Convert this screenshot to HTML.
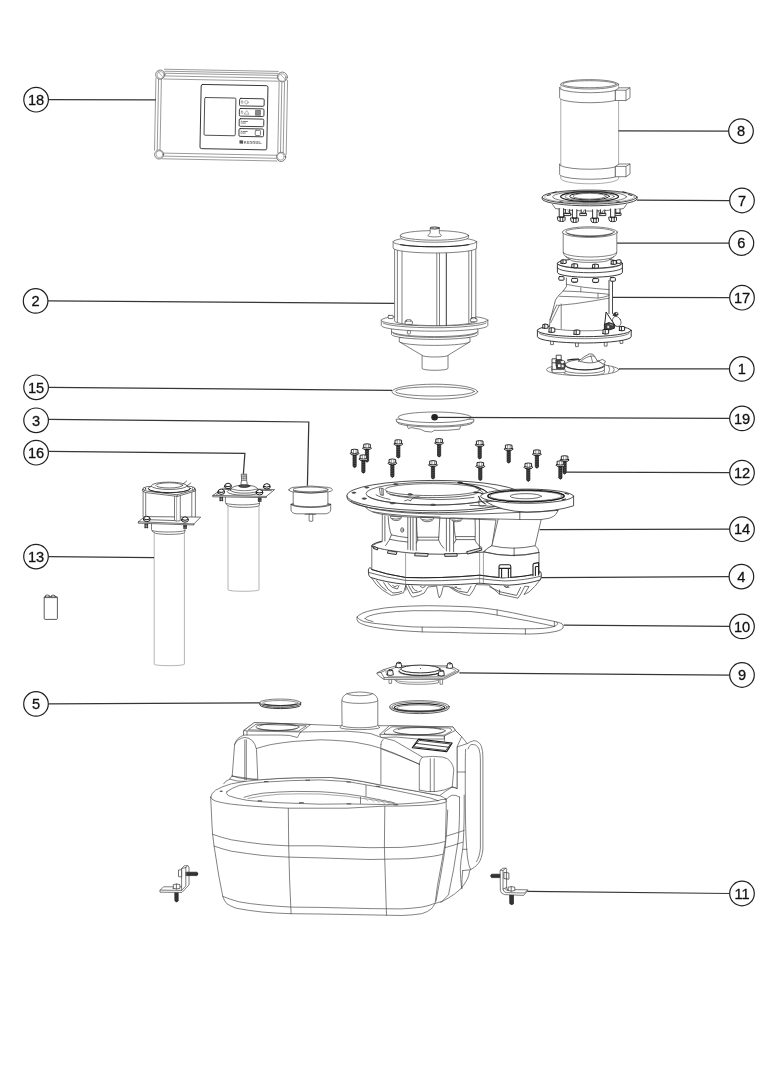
<!DOCTYPE html>
<html lang="de">
<head>
<meta charset="utf-8">
<title>Explosionszeichnung</title>
<style>
html,body{margin:0;padding:0;background:#fff;}
body{width:764px;height:1080px;overflow:hidden;font-family:"Liberation Sans",sans-serif;}
svg{display:block;position:absolute;left:0;top:0;will-change:transform;}
.l{fill:none;stroke:#363636;stroke-width:1.25;}
.c{fill:#fff;stroke:#202020;stroke-width:1.2;}
.n{font-family:"Liberation Sans",sans-serif;font-size:14.6px;fill:#111;stroke:#111;stroke-width:.3;text-anchor:middle;}
.p{fill:none;stroke:#4a4a4a;stroke-width:.7;stroke-linejoin:round;stroke-linecap:round;}
.pw{fill:#fff;stroke:#4a4a4a;stroke-width:.7;stroke-linejoin:round;stroke-linecap:round;}
.t{fill:none;stroke:#777;stroke-width:.55;stroke-linejoin:round;stroke-linecap:round;}
.tw{fill:#fff;stroke:#777;stroke-width:.55;stroke-linejoin:round;stroke-linecap:round;}
.d{fill:none;stroke:#222;stroke-width:1;stroke-linejoin:round;stroke-linecap:round;}
.dw{fill:#fff;stroke:#222;stroke-width:1;stroke-linejoin:round;stroke-linecap:round;}
.k{fill:#222;stroke:none;}
.g{fill:#999;stroke:none;}
</style>
</head>
<body>
<svg width="764" height="1080" viewBox="0 0 764 1080">
<rect width="764" height="1080" fill="#fff"/>
<g id="tank">
<g class="p" style="stroke:#404040;stroke-width:.65">
<!-- side box (right) -->
<path d="M457 747 L467.2 743.6 Q471 741.2 474.2 740.6 Q479.6 741.4 481.4 746.4 Q483 751 482.9 757 V849 Q482 858.6 478.4 863.4 Q475 867.6 470.5 869.7 L462.7 870.6"/>
<path d="M455.4 730.4 L461.7 736.7 L467.2 743.6 M465.6 749.3 Q465 760 465.4 810 Q465.6 840 467.4 857 Q468.4 866 470.6 869.6 M468 749 Q468.6 746 471 744.6 Q476.6 743.6 479 749 Q480.4 753 480.4 760 V848 Q479.6 857 476.6 861.6 M457 747 V788.6 M457 772 H465.4"/>
<path d="M464.2 795 V810 Q464 835 462.7 849.3 Q460.6 860 460.3 869.7 Q460.6 880 461.6 888.5 M462.7 870.6 Q461.6 880 461.9 888.5 M469.7 870.5 Q468.8 876 467.4 879.1 Q464 885 461.1 888.5 Q454 895 448.5 898 Q444 901.4 435.2 903.4"/>
<path d="M459.5 797 V810 Q459.4 830 458 841.4 Q454 870 448.5 894.8 L440.7 902.7 M447.7 810 Q446.6 840 443.8 857.1 Q440 880 436 901.1"/>
<path d="M446 836.2 Q455 833.6 464.2 830.4 M444.6 847.8 Q453 845.6 462.7 842.2 M462.7 849.3 H467"/>
<!-- lower body -->
<path class="pw" style="stroke:#404040;stroke-width:.65" d="M210.7 797.2 L211.3 810 Q211.8 824 212.6 834.3 L214.1 846.1 L218.8 876 L222.8 896.4 Q224 900.6 226.7 903.5 Q230.6 906.4 236.1 908.2 Q248 910.6 262.8 912.1 Q278 913.4 291.1 913.7 L320 914 L370 914.9 L401.4 915.5 Q412 915.2 421.8 913.7 Q428 911.8 431.3 908.9 Q434 906 435.2 902.7 L437.5 885.4 L443 855.5 L445.4 841.4 L446.2 810 V799 Z"/>
<path d="M212.6 834.3 Q221 837.4 231.4 839.8 Q248 842.6 262.8 844.2 Q276 845.4 288 845.8 L320 845.8 L370 847.7 L401.4 847.4 Q418 846.4 432.8 844.2 Q440 843 445.4 841.4"/>
<path d="M214.1 846.1 Q222 849 231.4 851.2 Q248 853.8 262.8 855.5 Q276 856.6 288 857.1 L320 857.9 L370 859.5 L409.3 858.7 Q422 857.8 432.8 856.3 Q438 855.4 443 854.3"/>
<path d="M222.8 896.4 Q230 899.4 239.3 901.9 Q250 903.8 262.8 905 Q278 906.4 291.1 907.1 L320 907.4 L370 908.6 L401.4 908.9 Q412 908.4 421.8 907.1 Q430 905.6 434.4 903.5"/>
<path d="M288.3 808.2 L288.7 845.8 L289.6 880 L291.1 913.7 M384.8 806 L384.4 847.6 L385.4 880 L386.5 915.2"/>
<!-- rim -->
<path class="pw" style="stroke:#404040;stroke-width:.65" d="M210.7 797.2 Q211 793.4 215.7 790.1 Q222 786.4 231.4 783.8 Q244 781.2 258.1 779.9 Q276 778.4 294.2 777.8 L320 777.5 L331.4 777.5 Q348 778.6 362.8 781.5 L378.5 784.6 L419.3 791.7 L439.7 795.6 Q444 797 446 799.5 Q446.6 801 445.4 802.4 Q441 803.6 435 804.4 L420 805.4 Q400 806.4 384.8 806.1 L347.1 808.2 L320 808.2 L288 808.2 Q272 807.6 258.1 806.6 Q244 805.6 231.4 804.2 Q222 803 215.7 801.1 Q211 799.6 210.7 797.2 Z"/>
<path d="M226.7 791.7 Q232 788 239.3 785.4 Q250 783.4 262.8 782.2 Q290 780.2 320 779.9 L347.1 781.5 L378.5 787 L420 795.6 Q432 798 438 800.6"/>
<path d="M226.7 791.7 Q225.8 793.6 228.3 795.6 Q236 798.4 247.1 800.3 Q262 802 278.5 802.7 L320 804.2 L347.1 803.9 L386.4 804.6 Q404 804 420 802.7 Q430 801.8 438 800.6"/>
<path d="M244 797.2 Q252 794.6 262.8 793.2 Q278 791.8 294.2 791.4 L320 791.7 L331.4 792.5 Q348 793.8 362.8 796.4 L394.2 802.7"/>
<path d="M248 798.4 Q262 795.4 280 794.2 Q300 793.6 320 794 Q346 795.4 370 799.4 L397 804" style="stroke:#777"/>
<path d="M366 785.4 V796.4 M360.5 797.2 V803.5"/>
<path d="M364 797.4 l4 3.6 M369 797.8 l5 4.4 M374 798.4 l5.4 4.6 M379 799.2 l6 4.8 M384.6 800 l5.4 4.2 M390 801.2 l4 3" style="stroke:#888;stroke-width:.5"/>
<g style="fill:#555;stroke:none">
<ellipse cx="221.2" cy="791.2" rx="1.6" ry=".7"/><rect x="264" y="781" width="4.4" height="1.1"/><rect x="305.4" y="779.7" width="4.6" height="1.1"/><rect x="257.6" y="800.3" width="4.6" height="1.1"/><rect x="299" y="802.2" width="4.8" height="1.1"/>
<rect x="346.4" y="781.4" width="4.4" height="1.1"/><rect x="375.8" y="785.8" width="4.4" height="1.1"/><rect x="346.6" y="803.3" width="4.6" height="1.1"/><rect x="393.6" y="804.2" width="4.6" height="1.1"/>
</g>
<!-- upper body -->
<path class="pw" style="stroke:#404040;stroke-width:.65" d="M232.2 776 L234.6 744.6 Q236 738 244 735 V730.4 L254.2 722.6 L310.7 724.5 L340.8 725.7 H378.5 L389.4 725.7 L453 727 L455.4 730.4 L461.7 736.7 L457 747 V788.5 L452.2 787 Q446 790.6 439.7 795.6 L419.3 791.7 L378.5 784.6 L362.8 781.5 Q348 778.6 331.4 777.5 L294.2 777.8 Q276 778.4 258.1 779.9 L232.2 776 Z"/>
<!-- left pillar -->
<path d="M234.6 744.6 Q237 738.6 244.8 737.4 Q254 738 256.5 749.3 L257.8 779.1 M232.2 776 Q230 777.6 229.8 779.1 Q236 781.6 245 781.4 M229.8 779.1 Q225 781 223.6 783.8 M232.2 776 Q244 780.2 257.8 779.1 M244.8 739.8 V779.9 M246.3 739.8 V779.9"/>
<!-- left port -->
<path class="pw" style="stroke:#404040;stroke-width:.65" d="M244 730.4 L254.2 722.6 L310.7 724.5 L300.5 732 L297.4 737.5 Q290 734.6 280 735 L247 735 L244 735.1 Z"/>
<path d="M244 730.4 L247 731 L300.5 732 M247 731 V735 M248.6 729.6 L256 724.2 L306.4 725.8 L298.6 731 Z" />
<ellipse cx="277.4" cy="727" rx="21.6" ry="3.5"/>
<path d="M257.6 728.2 A20.6 3.1 0 0 0 297.4 728.2 M259.4 726 A18 2.2 0 0 1 295.4 726"/>
<!-- top edges -->
<path d="M256.5 748.5 Q263 746.4 270.7 744.6 Q282 742.6 294.2 741.4 L320 739.8 L331.4 740.2 Q344 740.8 355 742.2 L370.7 745.3 L381.7 748.5 L394.2 753.2 L419.3 764.2"/>
<path d="M300.5 732 L347.1 731.2 Q360 732 370.7 733.6 L381.7 737.5 L394.2 740.6 L422.4 757.1"/>
<path d="M380.9 744.6 Q380.6 742 383 739.4 M380.9 744.6 V783.8"/>
<!-- central pipe -->
<path class="pw" style="stroke:#404040;stroke-width:.65" d="M341.8 700.8 Q342 696 347 693.6 Q359.8 690.4 372.6 693.6 Q377.6 696 377.8 700.8 V725.6 L379.8 727.4 A20 2.2 0 0 1 339.8 727.4 L341.8 725.6 Z"/>
<path d="M341.8 700.8 A18 2.6 0 0 0 377.8 700.8 M347 693.8 A12.9 2.2 0 0 0 372.6 693.8 M341.8 725.6 A18 2.2 0 0 0 377.8 725.6"/>
<!-- right port -->
<path class="pw" style="stroke:#404040;stroke-width:.65" d="M380 734.3 L389.4 725.7 L453 727 L455.4 730.4 L444.4 736 L444.4 739 L418.5 739.1 L396 737 L381.6 737.5 Z"/>
<path d="M380 734.3 L396 735 L444.4 736 M384.4 733.6 Q383.6 732.6 385 731.4 L390.6 727.6 Q391.6 726.8 393.4 726.8 L448.6 728 Q451.4 728.4 451.6 730 Q451.6 731 450.4 731.8 L444.6 734.8 Q443.4 735.4 441.6 735.2 L386.4 734.2 Q384.8 734.2 384.4 733.6 Z M444.4 736 V741"/>
<ellipse cx="419.3" cy="730.8" rx="26" ry="4"/>
<path d="M395 732 A25 3.6 0 0 0 443.6 732 M398 729.6 A22 2.6 0 0 1 441 729.6"/>
<!-- label -->
<path d="M412.2 747.7 L418.5 739.1 L452.2 743 L446.7 751.6 Z" style="stroke:#1c1c1c;stroke-width:1.1;fill:#fff"/>
<path d="M413.8 746.4 L419.2 740.4 L450.6 744 L446 750.2 Z M416.4 743.4 L448.4 747.2" style="stroke:#1c1c1c;stroke-width:.8"/>
<!-- right shoulder box -->
<path d="M419.3 764.2 Q419.6 759.4 422.4 757.1 Q432 755.6 442.8 757.1 Q448 758 450.7 761.8 Q453.4 765.4 453.8 769.7 L452.2 787 M419.3 764.2 V790.1 M430.3 758.7 V791.7 M434.2 758.7 V791.7 M419.3 790.1 Q436 794.6 452.2 787"/>
<path d="M381.6 749 Q400 755.6 419.3 764.2"/>
<path d="M446 799.5 Q449 796.4 452 795.2 Q456 794.6 459.4 797 M438 800.6 Q442 798.6 445.4 799.4 M452.2 787 Q456 787.4 457 788.5"/>
</g>
</g>
<g id="seals">
<g>
<path class="pw" d="M389.9 706.4 V707.8 A29.6 5.8 0 0 0 449.1 707.8 V706.4 Z" style="stroke:#333;stroke-width:.8"/>
<ellipse class="pw" cx="419.5" cy="706.4" rx="29.6" ry="5.8" style="stroke:#444"/>
<ellipse class="p" cx="419.5" cy="706.9" rx="27.6" ry="4.9" style="stroke:#444"/>
<ellipse class="d" cx="419.5" cy="707.5" rx="25.2" ry="3.9" style="stroke-width:1.1"/>
<ellipse class="p" cx="419.5" cy="707.9" rx="22.6" ry="3" style="stroke:#555"/>
<path class="pw" d="M259.9 702.6 V705 A20.4 3.6 0 0 0 300.7 705 V702.6 Z" style="stroke:#222;stroke-width:.9"/>
<path class="d" d="M259.9 703.8 A20.4 3.6 0 0 0 300.7 703.8" style="stroke-width:.75"/>
<ellipse class="pw" cx="280.3" cy="702.6" rx="20.4" ry="3.6" style="stroke:#444"/>
<ellipse class="p" cx="280.3" cy="703" rx="17.8" ry="2.5" style="stroke:#666"/>
<path class="d" d="M264.4 704.2 A17.8 2.5 0 0 0 296.2 704.2" style="stroke-width:.9"/>
</g>
</g>
<g id="part9">
<g class="p" style="stroke:#444;stroke-width:.7">
<!-- bowl under -->
<path class="pw" style="stroke:#555" d="M394.2 678 Q394.6 681.6 398.6 682.8 A22 2.6 0 0 0 438.4 682.8 Q438.8 681.6 438.7 678 Z"/>
<path d="M395.6 680.4 A22 2.6 0 0 0 438 680.4" style="stroke:#777"/>
<!-- studs -->
<path class="pw" style="stroke:#555" d="M389 678 V683.4 h2.6 V678 M440 678.6 V684.2 h2.6 V678.6"/>
<!-- plate -->
<path class="pw" style="stroke:#444" d="M377.2 672.9 L383 669.8 L396 665.8 H450.6 L459 670.3 L458.6 672 L445.6 678.6 L443.4 679.4 H384 L381 677.4 L377.6 674.6 Z"/>
<path d="M377.2 672.9 L381 672.4 L384 677.6 L443.4 678.2 L458.8 670.6 M381 672.4 L386 670 M384 679.2 V677.6"/>
<path d="M386 671.6 L396.6 667 H449 L456 670.6 L444 676.6 H388.6 Z" style="stroke:#777"/>
<!-- disc -->
<ellipse class="pw" cx="420.4" cy="671.4" rx="22" ry="4.4" style="stroke:#555"/>
<path d="M399.4 671.4 A21 4 0 0 0 441.4 671.4" style="stroke:#222;stroke-width:1"/>
<ellipse class="pw" cx="420.4" cy="669" rx="19.7" ry="3.9" style="stroke:#222;stroke-width:.95"/>
<circle class="k" cx="420.4" cy="668.4" r=".5"/>
<!-- nuts -->
<g class="pw" style="stroke:#222;stroke-width:.9">
<path d="M395.8 667.2 L396.6 663 Q398.8 661.8 401 663 L401.8 667.2 Q398.8 668.6 395.8 667.2 Z"/><ellipse cx="398.8" cy="662.8" rx="1.6" ry=".6"/>
<path d="M446.8 667.8 L447.6 663.6 Q449.8 662.4 452 663.6 L452.8 667.8 Q449.8 669.2 446.8 667.8 Z"/><ellipse cx="449.8" cy="663.4" rx="1.6" ry=".6"/>
<path d="M387.2 674.8 L388 670.4 Q390.3 669.2 392.6 670.4 L393.4 674.8 Q390.3 676.2 387.2 674.8 Z"/><ellipse cx="390.3" cy="670.2" rx="1.7" ry=".6"/>
<path d="M438.2 675.4 L439 671 Q441.3 669.8 443.6 671 L444.4 675.4 Q441.3 676.8 438.2 675.4 Z"/><ellipse cx="441.3" cy="670.8" rx="1.7" ry=".6"/>
</g>
</g>
</g>
<g id="gasket10">
<g class="p" style="stroke:#444;stroke-width:.7">
<path class="pw" style="stroke:#444" d="M357.1 617 Q360 612.6 373.6 609.9 Q384 607.6 397.1 606.8 Q412 605.8 428.5 605.7 Q450 605.9 470 606.9 Q484 607.8 497.1 609.9 Q512 612.4 528.5 616.2 L552.1 620.9 Q559.4 622.4 561.8 623.6 Q564 625.4 563 628 Q561.6 630.2 556 631.4 Q548 633 540 633.6 Q530 634.2 525.4 634 L497.1 633.5 Q470 633.2 450 632.4 Q436 632.2 422.2 631.9 Q408 631.2 397.1 630.3 Q384 629 373.6 627.2 Q362 625 357.9 621.7 Q356.4 619.6 357.1 617 Z"/>
<path d="M357.4 617.4 Q359 620 364 621.6 Q372 623.4 381.4 624.1 Q396 625.8 412.8 626.9 Q440 627.4 450 627.2 L497.1 628.3 Q512 628.8 525.4 628.8 Q536 628.8 544.2 628.3 Q550 627.8 554.4 626.4 Q559 624.6 557 622.2"/>
<path d="M364.9 618.6 Q366 615.6 381.4 613.1 Q396 611.2 412.8 610.7 Q440 610.4 470 611.5 Q484 612.6 497.1 615.1 Q512 618 528.5 620.9 L547.4 624.8 L554.4 626.4"/>
<path d="M364.9 618.6 Q367 620.4 373 621.6"/>
<path d="M422.2 627.2 V631.9 M497.1 609.9 V615.1 M525.4 628.8 V634 M554.4 621.6 V626.4"/>
</g>
</g>
<g id="housing">
<g class="p" style="stroke:#3a3a3a;stroke-width:.75">
<!-- bottom vanes -->
<path class="pw" style="stroke:#3a3a3a" d="M371 577 L376.4 584.6 Q381.6 590.4 391.4 595.4 Q398 595 403.6 592.6 L405.8 585.4 L410.4 594.4 L412.6 597.2 Q420 595.6 424.2 593 L428 587 L436.6 586 L438 594 L439.4 598 L441.4 594 L443.2 586.6 L449 586.6 Q458 594 469.6 595.6 L473.6 590 L476 584.6 L489 585 L499.6 594.2 L518 598.2 L521.4 593 L524.8 586.2 L529 586.6 L524 594.6 L529 592 Q536 586 540 580 Z"/>
<path d="M376.6 580.6 Q381.6 587.6 386.4 590.6 M383.6 582.6 Q387.6 590.6 393 593 Q398.6 592.8 401.6 591.6 M388 583.4 Q392 588.6 397.4 589 L399 585.6 M408.6 585.6 L412.8 593 Q418.6 592.4 421.6 590.8 M412 586 Q413.6 590.6 417 591 M450 587 Q459 592.6 467.4 592.6 L471 586.2 M455 586.8 Q457.6 589.4 461 589 M489.6 586.8 L500 591.8 L516.6 595.4 L520.6 587.4 M504.6 586.4 Q506.6 588.4 509 587.4 M405.8 585.4 V590 M499.6 590 V594"/>
<path d="M392.6 585.6 q2 2.6 4.8 0 M420.4 586.6 q2 2.6 4.8 0 M452 587 q2 2.6 4.8 0 M504 586.2 q2 2.4 4.6 0"/>
<!-- rim -->
<path class="pw" style="stroke:#2c2c2c;stroke-width:.9" d="M369.6 567.6 Q367.8 568.6 368.4 572 Q368.4 576 370.4 577.4 Q386 582.4 405.8 584.4 Q440 586.2 480 583.2 Q492 584.6 508.8 585.2 Q528 584 540.4 579.8 Q541.8 577 541.2 573.4 Q540.8 571.4 539.4 571 L539 572 L371.8 569 Z"/>
<!-- lower ring body -->
<path class="pw" style="stroke:#3a3a3a" d="M371.8 546 V569.6 Q386.2 574.4 405.8 577.5 Q440 578.6 480 575.2 Q492 577 502.4 577.8 Q526 577 539 573 V552.4 Q520 545 483 552 Q440 556 405.8 552.5 Q380 549.6 371.8 546 Z"/>
<path style="stroke:#222;stroke-width:1" d="M371.8 569.6 Q386.2 574.4 405.8 577.5 Q440 578.6 480 575.2 Q492 577 502.4 577.8 Q526 577 539.6 573"/>
<path class="t" style="stroke:#555" d="M405.6 553 V584.2 M479.6 553 V583 M483.4 552.4 V583.2"/>
<path d="M369.4 572.6 Q386 577.6 405.8 580.4 Q440 581.8 480 578.6 Q492 580.2 505 581 Q526 580.2 540.6 576.2"/>
<!-- clips -->
<path class="dw" style="stroke-width:1.1" d="M499 577.4 V566.6 Q499 564.8 500.8 564.8 H509 Q510.8 564.8 510.8 566.6 V577.4 M501.6 577.4 V568.4 H508.4 V577.4 M499.4 568.4 H510.4"/>
<path class="dw" style="stroke-width:1.1" d="M533 575.8 V565 Q533 563.6 534.4 563.4 L538.6 562.6 V575 M535.4 575.4 V566.8 L538.6 566.2"/>
<!-- mid section -->
<path class="pw" style="stroke:#3a3a3a" d="M382.3 514 V541.6 Q376 543 371.8 546 Q380 549.6 405.8 552.5 Q440 556 483 552 L492 545.7 L496 520 L441 518 Z"/>
<path d="M384.9 516 V541 M388.2 516.6 Q388.6 528 391.4 534.9 Q389.4 541 385.6 545.6 M391.4 534.9 Q399 536.8 407.6 537.6 M390 539.4 Q398 541.2 407.6 542 M407.8 517.2 V549.4 M410.4 517.4 V549.8 M413 517.6 V550.2 M416.3 517.8 V550.4 M416.6 518 Q416.6 532 417.8 540.1 H438.6 Q439.2 530 439.8 518 M417.8 540.1 L416.4 543 M438.6 540.1 Q440.4 545 443.8 548.2 M417.6 537.2 H438.8 M446.4 518 V551 M449.7 518 V551.4 M453.6 518 V551.8 M453.8 518.4 Q454 532 456 539.6 H475 M456 539.6 L454.4 543 M456 536.6 H475 M479.4 518.6 V551 M475 518.4 Q475.6 532 475 539.6 Q476.6 545 482 547.6"/>
<ellipse cx="402.2" cy="530" rx="1.5" ry="2.3"/><ellipse cx="402.4" cy="530" rx=".7" ry="1.4" class="t"/>
<g style="stroke:#222;stroke-width:.9;fill:#ddd">
<path d="M374.4 546.6 l3.4 1.4 l-.4 2 l-3.4 -1.4 Z M388.6 550.6 l8.4 1.4 l-.8 2.6 l-8.4 -1.4 Z M415.6 553 l12.6 .6 l-.6 2.8 l-12.6 -.6 Z M445 553.8 l12 -.2 l.2 2.6 l-12 .2 Z M467 551.6 l14 -3.6 l1 2 l-14 4 Z"/>
</g>
<path style="stroke:#222;stroke-width:.9" d="M372.4 544.6 Q376 542.4 381.6 541.2 M374 548.6 L371.8 546"/>
<!-- cone right -->
<path class="pw" style="stroke:#3a3a3a" d="M498.4 518 L491.9 545.7 Q487 548 484 551.8 Q510 558.6 539 552.4 Q538.6 548 535.1 545.7 L541.2 519.4 Z"/>
<path d="M492 545.8 Q513 550.6 535 545.8 M514.1 548 V556 M484.2 552 Q511 559 539 552.6"/>
<!-- under-flange hub -->
<path class="pw" style="stroke:#3a3a3a" d="M364.2 505 Q366 509.6 372.7 511.8 Q377 513.6 383.2 514.5 Q400 517 420 517.6 L480 518.6 L519.7 519.5 L540.9 519.6 L549.4 518.2 Q554.6 516.4 555.9 514.3 L558 510.6 Z"/>
<path d="M519.8 512.3 V519.5 M372.7 511.8 Q400 516.6 440 517"/>
<g class="pw" style="stroke:#333"><path d="M390.4 516.6 Q390.6 520 395.6 520.6 Q401 520.6 401.4 517.4 Z M392 518.6 Q396 519.8 400 518.6 M420.6 517.8 Q421 521.4 427 521.8 Q433.4 521.6 433.8 518.2 Z M422.4 519.6 Q427 521 432 519.6 M450.6 518.4 Q451 521.6 456.4 521.8 Q462 521.6 462.4 518.8 Z M452.4 520 Q456.4 521 460.6 520"/></g>
<!-- left plate -->
<path class="pw" style="stroke:#333;stroke-width:.85" d="M347 495.6 V497.4 A88 15.2 0 0 0 519.8 501.6 V495.6 Z"/>
<path style="stroke:#333" d="M351 501.2 Q360 506.2 378 509.6 Q400 513.4 440 514.2 Q480 514.6 519.8 512.4"/>
<ellipse class="pw" style="stroke:#333;stroke-width:.85" cx="435" cy="495.6" rx="88" ry="15.2"/>
<ellipse cx="434" cy="493.6" rx="68" ry="11.4"/>
<path d="M368 496.4 A66 10.6 0 0 0 480 501.8"/>
<ellipse class="pw" style="stroke:#333" cx="432.6" cy="489.6" rx="47.6" ry="6"/>
<path d="M386.4 491.4 A46 5.6 0 0 0 478 492.6 M390 494.6 Q410 499.2 440 499.6 Q460 499.4 474 497.4" />
<path class="pw" style="stroke:#333" d="M379.4 488.4 L380.4 494.8 L383.4 495.4 L383.2 488.8 Z M381.8 488.6 L382 495"/>
<path d="M376 494.8 Q380 497.4 390 499.4 M404.6 500.8 Q408 498.6 410.6 500.6 M410.6 500.6 Q412 497 419 496.6"/>
<g style="fill:#555;stroke:#333;stroke-width:.5">
<ellipse cx="353.8" cy="492.7" rx="2" ry=".7"/><ellipse cx="366.8" cy="487.5" rx="2" ry=".7"/><ellipse cx="395.6" cy="484.2" rx="2.2" ry=".7"/>
<ellipse cx="364.2" cy="498.6" rx="2.2" ry=".8"/><ellipse cx="392.4" cy="503.2" rx="2.4" ry=".8"/><ellipse cx="410" cy="494.4" rx="2.4" ry=".8"/><ellipse cx="433" cy="504.8" rx="2.4" ry=".8"/>
<ellipse cx="460" cy="482.4" rx="2.2" ry=".7"/>
</g>
<!-- junction -->
<path style="stroke:#222;stroke-width:1.1" d="M458 482.6 Q472 484.6 483 489.4 Q486 491 487.6 492.8 M474 492.2 Q480 492 484 494.4 Q489 498 496 499.4 M478.6 496.4 Q480.6 501.6 485 503.6"/>
<path d="M476 488 Q482 490 483.6 494 M479.4 499 Q478 503 479.4 506 Q484 506.8 486 505 M470 505.4 Q490 505.6 504 507.6 L517 509.4"/>
<!-- right plate -->
<path class="pw" style="stroke:#333;stroke-width:.85" d="M486 501.8 Q500 511 527 512.2 Q556 511.6 573.6 505.8 V496.6 Z"/>
<path d="M519.8 512.3 Q540 512.4 558 510.4"/>
<ellipse class="pw" style="stroke:#333;stroke-width:.85" cx="527.1" cy="496.2" rx="46.5" ry="7.1"/>
<ellipse cx="526" cy="496" rx="38.2" ry="5.7" style="stroke:#1a1a1a;stroke-width:1.5;stroke-dasharray:2.2 .7 1.2 .5 3 .9"/>
<ellipse cx="526" cy="496" rx="36" ry="5" style="stroke:#555;stroke-width:.6"/>
<ellipse cx="525.8" cy="496.2" rx="15.7" ry="2.6"/>
<path d="M565 493.4 l3.4 .8 M562 500 l3.6 -1" style="stroke:#222;stroke-width:1"/>
</g>
</g>
<g id="bolts">
<g transform="translate(439.1 438.4)"><path d="M-1.6 5.4 V17.5 Q0 19.7 1.6 17.5 V5.4 Z" fill="#2a2a2a" stroke="#1a1a1a" stroke-width=".7"/><path d="M-1.3 8.2 L1.3 7.6 M-1.3 10.4 L1.3 9.8 M-1.3 12.6 L1.3 12 M-1.3 14.8 L1.3 14.2 M-1.3 17 L1.3 16.4" stroke="#777" stroke-width=".45" fill="none"/><path d="M-4.5 4.4 Q-4.5 6 0 6 Q4.5 6 4.5 4.4 Q4.5 3.4 0 3.4 Q-4.5 3.4 -4.5 4.4 Z" fill="#fff" stroke="#1a1a1a" stroke-width=".95"/><path d="M-3.3 0.7 Q0 -0.3 3.3 0.7 V4 Q0 5 -3.3 4 Z" fill="#fff" stroke="#1a1a1a" stroke-width=".95"/><path d="M-1.1 0.4 V4.4 M1.5 0.5 V4.3" stroke="#555" stroke-width=".6" fill="none"/></g>
<g transform="translate(398.3 439.5)"><path d="M-1.6 5.4 V17.5 Q0 19.7 1.6 17.5 V5.4 Z" fill="#2a2a2a" stroke="#1a1a1a" stroke-width=".7"/><path d="M-1.3 8.2 L1.3 7.6 M-1.3 10.4 L1.3 9.8 M-1.3 12.6 L1.3 12 M-1.3 14.8 L1.3 14.2 M-1.3 17 L1.3 16.4" stroke="#777" stroke-width=".45" fill="none"/><path d="M-4.5 4.4 Q-4.5 6 0 6 Q4.5 6 4.5 4.4 Q4.5 3.4 0 3.4 Q-4.5 3.4 -4.5 4.4 Z" fill="#fff" stroke="#1a1a1a" stroke-width=".95"/><path d="M-3.3 0.7 Q0 -0.3 3.3 0.7 V4 Q0 5 -3.3 4 Z" fill="#fff" stroke="#1a1a1a" stroke-width=".95"/><path d="M-1.1 0.4 V4.4 M1.5 0.5 V4.3" stroke="#555" stroke-width=".6" fill="none"/></g>
<g transform="translate(479.7 440.4)"><path d="M-1.6 5.4 V17.5 Q0 19.7 1.6 17.5 V5.4 Z" fill="#2a2a2a" stroke="#1a1a1a" stroke-width=".7"/><path d="M-1.3 8.2 L1.3 7.6 M-1.3 10.4 L1.3 9.8 M-1.3 12.6 L1.3 12 M-1.3 14.8 L1.3 14.2 M-1.3 17 L1.3 16.4" stroke="#777" stroke-width=".45" fill="none"/><path d="M-4.5 4.4 Q-4.5 6 0 6 Q4.5 6 4.5 4.4 Q4.5 3.4 0 3.4 Q-4.5 3.4 -4.5 4.4 Z" fill="#fff" stroke="#1a1a1a" stroke-width=".95"/><path d="M-3.3 0.7 Q0 -0.3 3.3 0.7 V4 Q0 5 -3.3 4 Z" fill="#fff" stroke="#1a1a1a" stroke-width=".95"/><path d="M-1.1 0.4 V4.4 M1.5 0.5 V4.3" stroke="#555" stroke-width=".6" fill="none"/></g>
<g transform="translate(367.0 443.6)"><path d="M-1.6 5.4 V17.5 Q0 19.7 1.6 17.5 V5.4 Z" fill="#2a2a2a" stroke="#1a1a1a" stroke-width=".7"/><path d="M-1.3 8.2 L1.3 7.6 M-1.3 10.4 L1.3 9.8 M-1.3 12.6 L1.3 12 M-1.3 14.8 L1.3 14.2 M-1.3 17 L1.3 16.4" stroke="#777" stroke-width=".45" fill="none"/><path d="M-4.5 4.4 Q-4.5 6 0 6 Q4.5 6 4.5 4.4 Q4.5 3.4 0 3.4 Q-4.5 3.4 -4.5 4.4 Z" fill="#fff" stroke="#1a1a1a" stroke-width=".95"/><path d="M-3.3 0.7 Q0 -0.3 3.3 0.7 V4 Q0 5 -3.3 4 Z" fill="#fff" stroke="#1a1a1a" stroke-width=".95"/><path d="M-1.1 0.4 V4.4 M1.5 0.5 V4.3" stroke="#555" stroke-width=".6" fill="none"/></g>
<g transform="translate(508.7 444.5)"><path d="M-1.6 5.4 V17.5 Q0 19.7 1.6 17.5 V5.4 Z" fill="#2a2a2a" stroke="#1a1a1a" stroke-width=".7"/><path d="M-1.3 8.2 L1.3 7.6 M-1.3 10.4 L1.3 9.8 M-1.3 12.6 L1.3 12 M-1.3 14.8 L1.3 14.2 M-1.3 17 L1.3 16.4" stroke="#777" stroke-width=".45" fill="none"/><path d="M-4.5 4.4 Q-4.5 6 0 6 Q4.5 6 4.5 4.4 Q4.5 3.4 0 3.4 Q-4.5 3.4 -4.5 4.4 Z" fill="#fff" stroke="#1a1a1a" stroke-width=".95"/><path d="M-3.3 0.7 Q0 -0.3 3.3 0.7 V4 Q0 5 -3.3 4 Z" fill="#fff" stroke="#1a1a1a" stroke-width=".95"/><path d="M-1.1 0.4 V4.4 M1.5 0.5 V4.3" stroke="#555" stroke-width=".6" fill="none"/></g>
<g transform="translate(354.6 449.0)"><path d="M-1.6 5.4 V17.5 Q0 19.7 1.6 17.5 V5.4 Z" fill="#2a2a2a" stroke="#1a1a1a" stroke-width=".7"/><path d="M-1.3 8.2 L1.3 7.6 M-1.3 10.4 L1.3 9.8 M-1.3 12.6 L1.3 12 M-1.3 14.8 L1.3 14.2 M-1.3 17 L1.3 16.4" stroke="#777" stroke-width=".45" fill="none"/><path d="M-4.5 4.4 Q-4.5 6 0 6 Q4.5 6 4.5 4.4 Q4.5 3.4 0 3.4 Q-4.5 3.4 -4.5 4.4 Z" fill="#fff" stroke="#1a1a1a" stroke-width=".95"/><path d="M-3.3 0.7 Q0 -0.3 3.3 0.7 V4 Q0 5 -3.3 4 Z" fill="#fff" stroke="#1a1a1a" stroke-width=".95"/><path d="M-1.1 0.4 V4.4 M1.5 0.5 V4.3" stroke="#555" stroke-width=".6" fill="none"/></g>
<g transform="translate(536.9 449.6)"><path d="M-1.6 5.4 V17.5 Q0 19.7 1.6 17.5 V5.4 Z" fill="#2a2a2a" stroke="#1a1a1a" stroke-width=".7"/><path d="M-1.3 8.2 L1.3 7.6 M-1.3 10.4 L1.3 9.8 M-1.3 12.6 L1.3 12 M-1.3 14.8 L1.3 14.2 M-1.3 17 L1.3 16.4" stroke="#777" stroke-width=".45" fill="none"/><path d="M-4.5 4.4 Q-4.5 6 0 6 Q4.5 6 4.5 4.4 Q4.5 3.4 0 3.4 Q-4.5 3.4 -4.5 4.4 Z" fill="#fff" stroke="#1a1a1a" stroke-width=".95"/><path d="M-3.3 0.7 Q0 -0.3 3.3 0.7 V4 Q0 5 -3.3 4 Z" fill="#fff" stroke="#1a1a1a" stroke-width=".95"/><path d="M-1.1 0.4 V4.4 M1.5 0.5 V4.3" stroke="#555" stroke-width=".6" fill="none"/></g>
<g transform="translate(363.4 454.6)"><path d="M-1.6 5.4 V17.5 Q0 19.7 1.6 17.5 V5.4 Z" fill="#2a2a2a" stroke="#1a1a1a" stroke-width=".7"/><path d="M-1.3 8.2 L1.3 7.6 M-1.3 10.4 L1.3 9.8 M-1.3 12.6 L1.3 12 M-1.3 14.8 L1.3 14.2 M-1.3 17 L1.3 16.4" stroke="#777" stroke-width=".45" fill="none"/><path d="M-4.5 4.4 Q-4.5 6 0 6 Q4.5 6 4.5 4.4 Q4.5 3.4 0 3.4 Q-4.5 3.4 -4.5 4.4 Z" fill="#fff" stroke="#1a1a1a" stroke-width=".95"/><path d="M-3.3 0.7 Q0 -0.3 3.3 0.7 V4 Q0 5 -3.3 4 Z" fill="#fff" stroke="#1a1a1a" stroke-width=".95"/><path d="M-1.1 0.4 V4.4 M1.5 0.5 V4.3" stroke="#555" stroke-width=".6" fill="none"/></g>
<g transform="translate(564.6 455.5)"><path d="M-1.6 5.4 V17.5 Q0 19.7 1.6 17.5 V5.4 Z" fill="#2a2a2a" stroke="#1a1a1a" stroke-width=".7"/><path d="M-1.3 8.2 L1.3 7.6 M-1.3 10.4 L1.3 9.8 M-1.3 12.6 L1.3 12 M-1.3 14.8 L1.3 14.2 M-1.3 17 L1.3 16.4" stroke="#777" stroke-width=".45" fill="none"/><path d="M-4.5 4.4 Q-4.5 6 0 6 Q4.5 6 4.5 4.4 Q4.5 3.4 0 3.4 Q-4.5 3.4 -4.5 4.4 Z" fill="#fff" stroke="#1a1a1a" stroke-width=".95"/><path d="M-3.3 0.7 Q0 -0.3 3.3 0.7 V4 Q0 5 -3.3 4 Z" fill="#fff" stroke="#1a1a1a" stroke-width=".95"/><path d="M-1.1 0.4 V4.4 M1.5 0.5 V4.3" stroke="#555" stroke-width=".6" fill="none"/></g>
<g transform="translate(392.4 458.8)"><path d="M-1.6 5.4 V17.5 Q0 19.7 1.6 17.5 V5.4 Z" fill="#2a2a2a" stroke="#1a1a1a" stroke-width=".7"/><path d="M-1.3 8.2 L1.3 7.6 M-1.3 10.4 L1.3 9.8 M-1.3 12.6 L1.3 12 M-1.3 14.8 L1.3 14.2 M-1.3 17 L1.3 16.4" stroke="#777" stroke-width=".45" fill="none"/><path d="M-4.5 4.4 Q-4.5 6 0 6 Q4.5 6 4.5 4.4 Q4.5 3.4 0 3.4 Q-4.5 3.4 -4.5 4.4 Z" fill="#fff" stroke="#1a1a1a" stroke-width=".95"/><path d="M-3.3 0.7 Q0 -0.3 3.3 0.7 V4 Q0 5 -3.3 4 Z" fill="#fff" stroke="#1a1a1a" stroke-width=".95"/><path d="M-1.1 0.4 V4.4 M1.5 0.5 V4.3" stroke="#555" stroke-width=".6" fill="none"/></g>
<g transform="translate(433.0 460.4)"><path d="M-1.6 5.4 V17.5 Q0 19.7 1.6 17.5 V5.4 Z" fill="#2a2a2a" stroke="#1a1a1a" stroke-width=".7"/><path d="M-1.3 8.2 L1.3 7.6 M-1.3 10.4 L1.3 9.8 M-1.3 12.6 L1.3 12 M-1.3 14.8 L1.3 14.2 M-1.3 17 L1.3 16.4" stroke="#777" stroke-width=".45" fill="none"/><path d="M-4.5 4.4 Q-4.5 6 0 6 Q4.5 6 4.5 4.4 Q4.5 3.4 0 3.4 Q-4.5 3.4 -4.5 4.4 Z" fill="#fff" stroke="#1a1a1a" stroke-width=".95"/><path d="M-3.3 0.7 Q0 -0.3 3.3 0.7 V4 Q0 5 -3.3 4 Z" fill="#fff" stroke="#1a1a1a" stroke-width=".95"/><path d="M-1.1 0.4 V4.4 M1.5 0.5 V4.3" stroke="#555" stroke-width=".6" fill="none"/></g>
<g transform="translate(560.4 460.6)"><path d="M-1.6 5.4 V17.5 Q0 19.7 1.6 17.5 V5.4 Z" fill="#2a2a2a" stroke="#1a1a1a" stroke-width=".7"/><path d="M-1.3 8.2 L1.3 7.6 M-1.3 10.4 L1.3 9.8 M-1.3 12.6 L1.3 12 M-1.3 14.8 L1.3 14.2 M-1.3 17 L1.3 16.4" stroke="#777" stroke-width=".45" fill="none"/><path d="M-4.5 4.4 Q-4.5 6 0 6 Q4.5 6 4.5 4.4 Q4.5 3.4 0 3.4 Q-4.5 3.4 -4.5 4.4 Z" fill="#fff" stroke="#1a1a1a" stroke-width=".95"/><path d="M-3.3 0.7 Q0 -0.3 3.3 0.7 V4 Q0 5 -3.3 4 Z" fill="#fff" stroke="#1a1a1a" stroke-width=".95"/><path d="M-1.1 0.4 V4.4 M1.5 0.5 V4.3" stroke="#555" stroke-width=".6" fill="none"/></g>
<g transform="translate(480.3 461.9)"><path d="M-1.6 5.4 V17.5 Q0 19.7 1.6 17.5 V5.4 Z" fill="#2a2a2a" stroke="#1a1a1a" stroke-width=".7"/><path d="M-1.3 8.2 L1.3 7.6 M-1.3 10.4 L1.3 9.8 M-1.3 12.6 L1.3 12 M-1.3 14.8 L1.3 14.2 M-1.3 17 L1.3 16.4" stroke="#777" stroke-width=".45" fill="none"/><path d="M-4.5 4.4 Q-4.5 6 0 6 Q4.5 6 4.5 4.4 Q4.5 3.4 0 3.4 Q-4.5 3.4 -4.5 4.4 Z" fill="#fff" stroke="#1a1a1a" stroke-width=".95"/><path d="M-3.3 0.7 Q0 -0.3 3.3 0.7 V4 Q0 5 -3.3 4 Z" fill="#fff" stroke="#1a1a1a" stroke-width=".95"/><path d="M-1.1 0.4 V4.4 M1.5 0.5 V4.3" stroke="#555" stroke-width=".6" fill="none"/></g>
<g transform="translate(528.3 462.8)"><path d="M-1.6 5.4 V17.5 Q0 19.7 1.6 17.5 V5.4 Z" fill="#2a2a2a" stroke="#1a1a1a" stroke-width=".7"/><path d="M-1.3 8.2 L1.3 7.6 M-1.3 10.4 L1.3 9.8 M-1.3 12.6 L1.3 12 M-1.3 14.8 L1.3 14.2 M-1.3 17 L1.3 16.4" stroke="#777" stroke-width=".45" fill="none"/><path d="M-4.5 4.4 Q-4.5 6 0 6 Q4.5 6 4.5 4.4 Q4.5 3.4 0 3.4 Q-4.5 3.4 -4.5 4.4 Z" fill="#fff" stroke="#1a1a1a" stroke-width=".95"/><path d="M-3.3 0.7 Q0 -0.3 3.3 0.7 V4 Q0 5 -3.3 4 Z" fill="#fff" stroke="#1a1a1a" stroke-width=".95"/><path d="M-1.1 0.4 V4.4 M1.5 0.5 V4.3" stroke="#555" stroke-width=".6" fill="none"/></g>
</g>
<g id="disc19">
<g>
<path class="pw" d="M406.6 424.6 L408.4 428.6 L411.4 427.6 Q416 428.6 420.4 429.2 Q424 432.2 431.6 432 Q433.6 431 434 430.4 Q448 430.8 459.6 429.2 L460.6 426 Z"/>
<path class="pw" d="M396.1 419.6 Q396 422 398 423.2 A37.6 4.6 0 0 0 472.2 423.2 Q474.2 422 474 419.6 Z"/>
<path class="p" d="M396.6 421.4 A38.6 5 0 0 0 473.6 421.4"/>
<ellipse class="pw" cx="434.8" cy="417.3" rx="36.7" ry="5.3"/>
</g>
</g>
<g id="oring15">
<ellipse class="p" cx="434.8" cy="391.7" rx="42.9" ry="7.5"/>
<ellipse class="p" cx="434.8" cy="391.4" rx="39.6" ry="4.6"/>
</g>
<g id="motor">
<g>
<!-- neck + cone -->
<path class="pw" d="M422.1 355.3 V368.4 A12.95 1.9 0 0 0 448 368.4 V355.3 Z"/>
<path class="pw" d="M399.3 338 V341.8 L422.1 355.3 A12.95 1.7 0 0 0 448 355.3 L470 341.8 V338 Z"/>
<path class="p" d="M399.3 341.8 A35.35 3.6 0 0 0 470 341.8"/>
<!-- rings under flange -->
<path class="pw" d="M391.5 329 V334.4 A43.2 5 0 0 0 477.9 334.4 V329 Z"/>
<path class="p" d="M391.5 331.6 A43.2 5 0 0 0 477.9 331.6 M393 333.2 A42 4.8 0 0 0 476.4 333.2"/>
<rect class="pw" x="407.4" y="330.6" width="3" height="3.4" rx=".6"/>
<!-- lower flange -->
<path class="pw" d="M381.3 320.2 V325.6 A53.25 5.6 0 0 0 487.8 325.6 V320.2 Z"/>
<ellipse class="pw" cx="434.55" cy="320.2" rx="53.25" ry="5.7"/>
<path class="p" d="M383 323 A52 5.5 0 0 0 486 323"/>
<rect class="pw" x="388.2" y="315.4" width="5" height="3.2" rx=".7" style="stroke:#333"/>
<!-- body -->
<path class="pw" d="M394.6 246 V321 A40.6 4.6 0 0 0 475.8 321 V246 Z"/>
<path class="p" d="M397.4 250 V322.3 M402 251 V323.3 M436.8 253 V325.6 M439.5 253 V325.6 M468.8 251 V323.2 M471.6 250 V322.4"/>
<path class="d" d="M446.3 253 V325.4" style="stroke-width:.9"/>
<g class="pw" style="stroke:#333"><rect x="405" y="321" width="7.4" height="3.4" rx=".8"/><rect x="470.4" y="318.6" width="6.6" height="3.2" rx=".8"/>
<path d="M406.6 321 v-1.2 h4.2 v1.2 M471.8 318.6 v-1.1 h3.8 v1.1"/></g>
<!-- upper flange -->
<path class="pw" d="M393.1 241.8 V248 A41.75 5 0 0 0 476.6 248 V241.8 Z"/>
<ellipse class="pw" cx="434.85" cy="241.8" rx="41.75" ry="5"/>
<path class="d" d="M400.6 244.7 A41.75 5 0 0 0 469 244.7" style="stroke-width:1"/>
<!-- cap -->
<path class="pw" d="M400.4 235.4 V237.4 A34 4.8 0 0 0 468.5 237.4 V235.4 Z"/>
<ellipse class="pw" cx="434.45" cy="235.4" rx="34.05" ry="4.8"/>
<!-- nub -->
<path class="pw" d="M430.2 228 V233 Q429 234.8 427.8 235.6 A6.9 1.3 0 0 0 441.6 235.6 Q440.4 234.8 439.3 233 V228 Z"/>
<ellipse class="pw" cx="434.75" cy="228" rx="4.55" ry="1" style="stroke:#222;stroke-width:.9"/>
</g>
</g>
<g id="panel">
<g transform="rotate(1.1 220.5 115.5)">
<path class="t" style="stroke:#666;stroke-width:.65" d="M163.5 70.3 H277.5 M163.8 72.3 H277.2 M164.2 74.3 H276.8 M164 77 H277 M163 80.1 H278"/>
<path class="t" style="stroke:#666;stroke-width:.65" d="M155.2 79.5 V151.5 M157.9 80.3 V151 M160.7 80.3 V151.5"/>
<path class="t" style="stroke:#666;stroke-width:.65" d="M278.5 81 V151.5 M281.2 81.3 V151 M283.9 81 V151.3 M286.9 79 V153"/>
<path class="t" style="stroke:#666;stroke-width:.65" d="M164 154.2 H277.2 M164.2 157.2 H277 M163 159.9 H278"/>
<circle class="pw" cx="159.5" cy="75.8" r="4.6"/><circle class="t" cx="159.8" cy="76.2" r="3.5"/>
<circle class="pw" cx="281.6" cy="75.8" r="4.9"/><circle class="t" cx="281.2" cy="76.3" r="3.7"/>
<circle class="pw" cx="159.9" cy="155.7" r="4.5"/><circle class="t" cx="160.2" cy="155.4" r="3.4"/>
<circle class="pw" cx="281.9" cy="155.7" r="4.6"/><circle class="t" cx="281.5" cy="155.4" r="3.5"/>
<path class="t" d="M157.2 72.5 L162.5 78.8 M279 72.3 L285 78.6"/>
<rect class="d" x="200.6" y="84.8" width="66.8" height="64.2" rx="1.6" style="stroke-width:.9"/>
<rect class="p" style="stroke:#333;stroke-width:.85" x="204.4" y="97.8" width="31.2" height="37.7" rx="1"/>
<rect class="p" style="stroke:#2a2a2a;stroke-width:.9" x="239.3" y="98" width="24.6" height="7.5" rx="1.2"/>
<rect class="p" style="stroke:#2a2a2a;stroke-width:.9" x="239.3" y="108.1" width="24.6" height="7.6" rx="1.2"/>
<rect class="p" style="stroke:#2a2a2a;stroke-width:.9" x="239.3" y="118.3" width="24.6" height="7.6" rx="1.2"/>
<rect class="p" style="stroke:#2a2a2a;stroke-width:.9" x="239.3" y="128.2" width="24.6" height="7.8" rx="1.2"/>
<rect class="t" x="241.2" y="100.6" width="1.5" height="2.3" rx=".4"/><circle class="t" cx="246.2" cy="101.8" r="1.7"/>
<rect class="t" x="241.2" y="110.8" width="1.5" height="2.3" rx=".4"/><path class="t" d="M244.3 113.4 L246.6 110 L248.9 113.4 Z"/>
<rect x="255.4" y="109.6" width="5" height="5" fill="#888" stroke="#444" stroke-width=".5"/>
<rect class="t" x="241.2" y="120.9" width="1.5" height="2.3" rx=".4"/><path class="p" d="M243.6 121 H247.6 M243.6 122.6 H245.6"/>
<rect class="t" x="241.2" y="130.9" width="1.5" height="2.3" rx=".4"/><path class="p" d="M243.6 131 H247.6 M243.6 132.6 H245.6"/>
<rect class="p" x="255.6" y="129.6" width="5.2" height="5.2" rx=".8"/>
<rect x="240" y="140" width="3.6" height="3.2" fill="#555"/>
<text x="244.2" y="143.2" style="font-family:'Liberation Sans',sans-serif;font-size:4.1px;font-weight:bold;fill:#555;letter-spacing:.35px">KESSEL</text>
</g>
</g>
<g id="sleeve8">
<path class="tw" d="M560.8 84.3 V178.4 A28.9 5.4 0 0 0 618.6 178.4 V84.3 Z" style="stroke:#666"/>
<ellipse class="pw" cx="589.7" cy="84.3" rx="28.9" ry="4.7"/>
<ellipse class="p" cx="589.5" cy="84.2" rx="26.9" ry="3.5"/>
<path class="pw" d="M559.5 87.7 A30.2 4.8 0 0 0 615.6 90.4 V100.4 A30.2 4.8 0 0 1 559.5 97.7 Z"/>
<path class="pw" d="M615.6 90.2 H626 V100.5 H615.6 Z M615.6 90.2 L619 87.8 H630 L626 90.2 M630 87.8 V97.8 L626 100.5"/>
<path class="pw" d="M559.5 164.2 A30.2 4.8 0 0 0 615.6 166.9 V176.9 A30.2 4.8 0 0 1 559.5 174.2 Z"/>
<path class="pw" d="M615.6 166.4 H626 V176.7 H615.6 Z M615.6 166.4 L619 164 H630 L626 166.4 M630 164 V174 L626 176.7"/>
</g>
<g id="flange7">
<g>
<path class="p" d="M552.5 204.5 L555.5 208.6 Q589.6 213.6 623.5 208.6 L626.5 204.5" style="stroke:#333"/>
<g class="pw" style="stroke:#1e1e1e;stroke-width:.9">
<path d="M565.4 209.5 V213.6 h4.2 V209.5 M564.4 213.2 h6.2 v2.4 h-6.2 Z"/>
<path d="M581.2 209.8 V213.6 h4.2 V209.8 M580.2 213.2 h6.2 v2.4 h-6.2 Z"/>
<path d="M600.6 209.8 V213.6 h4.2 V209.8 M599.6 213.2 h6.2 v2.4 h-6.2 Z"/>
<path d="M615.8 209.3 V213.4 h4.2 V209.3 M614.8 213 h6.2 v2.4 h-6.2 Z"/>
<path d="M559.2 208.6 V217.4 h4.4 V208.6 M557.7 216.9 h7.4 v3.3 a3.7 1.3 0 0 1 -7.4 0 Z M560.2 217 v3.8 M562.8 217 v3.8"/>
<path d="M572.4 209.6 V218.4 h4.4 V209.6 M570.9 217.9 h7.4 v3.3 a3.7 1.3 0 0 1 -7.4 0 Z M573.4 218 v3.8 M576 218 v3.8"/>
<path d="M592.6 209.8 V218.6 h4.4 V209.8 M591.1 218.1 h7.4 v3.3 a3.7 1.3 0 0 1 -7.4 0 Z M593.6 218.2 v3.8 M596.2 218.2 v3.8"/>
<path d="M610.6 209 V217.6 h4.4 V209 M609.1 217.1 h7.4 v3.3 a3.7 1.3 0 0 1 -7.4 0 Z M611.6 217.2 v3.8 M614.2 217.2 v3.8"/>
</g>
<path class="p" d="M568 210.6 l3.6 4 M584.4 210 l-2 3 M598 211 l2.6 3.4 M603.4 210.4 l-1.6 2.6" style="stroke:#333"/>
<path class="pw" d="M542.2 197.2 V198.8 A47.4 7 0 0 0 637 198.8 V197.2" style="stroke:#2a2a2a;stroke-width:.85"/>
<ellipse class="pw" cx="589.6" cy="197.1" rx="47.4" ry="7" style="stroke:#2a2a2a;stroke-width:.85"/>
<ellipse class="t" cx="589.6" cy="197" rx="45" ry="6.2"/>
<ellipse class="p" cx="589.6" cy="196.8" rx="37" ry="5.6"/>
<ellipse class="d" cx="589.6" cy="196.6" rx="29" ry="5" style="stroke-width:1.3"/>
<ellipse class="p" cx="589.6" cy="196.5" rx="24.5" ry="4.3"/>
<ellipse class="d" cx="589.6" cy="196.3" rx="20" ry="3.6"/>
<ellipse class="pw" cx="589.6" cy="196.2" rx="16.6" ry="2.9"/>
<path class="p" d="M547.5 195.5 l3 -.8 M553 192.6 l3.4 -.7 M626 192.5 l-3.4 -.7 M631.6 195.4 l-3 -.8 M560 201.8 l3 .5 M619 201.8 l-3 .5" style="stroke:#222;stroke-width:.9"/>
</g>
</g>
<g id="valve17">
<g>
<!-- bottom flange -->
<g class="pw" style="stroke:#333">
<path d="M550.6 341 v3.6 h2.8 v-3.6 M575.5 343 v3.6 h2.8 v-3.6 M604.3 342.5 v3.6 h2.8 v-3.6 M620 340 v3.4 h2.8 v-3.4"/>
</g>
<path class="dw" d="M537.4 330.4 V336.6 A46.9 6.4 0 0 0 631.2 336.6 V330.4 Z" style="stroke-width:.9"/>
<ellipse class="dw" cx="584.3" cy="330.4" rx="46.9" ry="6.3" style="stroke-width:.9"/>
<path class="p" d="M539.4 333.4 A45.4 6.2 0 0 0 629.2 333.4"/>
<!-- body -->
<path d="M566.4 278 V286.6 Q563.5 291.5 558 296.2 Q554.6 300 554.3 304.6 L550 321 L549.4 328.4 Q580 332.6 612.5 329 V279 Z" fill="#fff" stroke="none"/>
<path class="p" d="M566.4 278 V286.6 Q563.5 291.5 558 296.2 Q554.6 300 554.3 304.6 L550 321 L549.4 327" style="stroke:#333"/>
<path class="p" d="M552 328.8 Q580 332.4 607 329.8"/>
<path class="p" d="M609 280.5 V313.5 M612.5 280.5 V313.5" style="stroke-width:.9;stroke:#333"/>
<path class="p" d="M567 284.4 Q582 287.8 609 289.6 M563 291 Q580 291.4 598 293.2 L609 294.3 M559.6 296.3 Q578 296.6 598 298.1 Q604 297.4 609 295.6 M558 305.4 Q574.5 304.2 594 300.8 Q603 299.2 609 298.2 M580.8 287.7 V291.6 M598 293.4 V298"/>
<path class="p" d="M561.2 304 V328.6 M559.3 305.4 L550.8 322.6 M556.8 304.8 L549.6 320"/>
<!-- top flange -->
<g class="pw" style="stroke:#1e1e1e;stroke-width:.95">
<rect x="558.8" y="276.6" width="5.2" height="3.6" rx=".8"/><rect x="571.6" y="278.4" width="6" height="3.8" rx=".8"/>
<rect x="592.6" y="278.6" width="6" height="3.8" rx=".8"/><rect x="610.2" y="277.6" width="5.2" height="3.6" rx=".8"/>
</g>
<path class="p" d="M572.6 282 q2 1 4 0 M593.6 282.2 q2 1 4 0" style="stroke:#222"/>
<path class="dw" d="M557.4 263.4 V272.4 A32.5 4.9 0 0 0 622.4 272.4 V263.4 Z" style="stroke-width:.9"/>
<path class="d" d="M557.4 267.8 A32.5 4.9 0 0 0 622.4 267.8" style="stroke-width:.8"/>
<ellipse class="dw" cx="589.9" cy="263.4" rx="32.5" ry="4.9" style="stroke-width:.9"/>
<path class="p" d="M559.4 265 A31 4.6 0 0 0 620.4 265"/>
<g class="pw" style="stroke:#1e1e1e;stroke-width:.95">
<path d="M561 263.2 v-3 q2.6 -1 5.2 0 v3 q-2.6 1 -5.2 0 Z M563 259.8 v3.6"/>
<path d="M571.8 267.4 v-3.2 q2.9 -1 5.8 0 v3.2 q-2.9 1 -5.8 0 Z M574 263.8 v3.8"/>
<path d="M592.6 267.8 v-3.2 q2.9 -1 5.8 0 v3.2 q-2.9 1 -5.8 0 Z M594.8 264.2 v3.8"/>
<path d="M611.2 264 v-3 q2.6 -1 5.2 0 v3 q-2.6 1 -5.2 0 Z M613.2 260.6 v3.6"/>
<path d="M616.6 263 v-2.8 q2.2 -1 4.4 0 v2.8 q-2.2 1 -4.4 0 Z"/>
</g>
<!-- nuts on bottom flange -->
<g class="pw" style="stroke:#1e1e1e;stroke-width:.95">
<path d="M542.8 328 v-3.4 q2.6 -1 5.2 0 v3.4 q-2.6 1 -5.2 0 Z M544.8 324.2 v4"/>
<path d="M549 332 v-3.8 q2.9 -1 5.8 0 v3.8 q-2.9 1 -5.8 0 Z M551.2 328 v4.4"/>
<path d="M574 334.2 v-3.8 q2.9 -1 5.8 0 v3.8 q-2.9 1 -5.8 0 Z M576.2 330.2 v4.4"/>
<path d="M603 333.6 v-3.8 q2.8 -1 5.6 0 v3.8 q-2.8 1 -5.6 0 Z M605.2 329.6 v4.4"/>
<path d="M619.4 330.4 v-3.6 q2.6 -1 5.2 0 v3.6 q-2.6 1 -5.2 0 Z M621.4 326.4 v4.2"/>
</g>
<!-- lever -->
<ellipse class="pw" cx="616.8" cy="321.4" rx="4" ry="5.2" transform="rotate(-28 616.8 321.4)" style="stroke:#444"/>
<path d="M612.9 315.4 Q613.4 312.6 616 312.2 Q618.4 312.4 618.2 314.4 Q616.6 317 612.9 315.4 Z" fill="#333" stroke="#222" stroke-width=".6"/>
<circle cx="616.6" cy="313.6" r=".8" fill="#ddd"/>
<path class="dw" d="M606.3 312.3 L614.4 324.6 L605 325 Z" style="stroke-width:1"/>
<path d="M604.4 324.2 L609 322.6 L614.4 324.4 V328.2 L609.8 329.8 L604.4 329 Z" fill="#444" stroke="#1c1c1c" stroke-width=".9" stroke-linejoin="round"/>
<circle cx="608.2" cy="327" r="1.4" fill="#fff" stroke="#222" stroke-width=".5"/>
<path d="M609.6 324 L613 325.2" stroke="#ddd" stroke-width=".6"/>
</g>
</g>
<g id="pipe6">
<path class="pw" d="M563.2 232.4 V252.6 Q563.6 256 570.2 259.6 A19.5 2.8 0 0 0 609.4 259.6 Q616.4 256 616.8 252.6 V232.4"/>
<path class="p" d="M563.3 252.4 A26.7 4.6 0 0 0 616.7 252.4 M566 256.4 A23.8 3.8 0 0 0 614 256.4"/>
<ellipse class="pw" cx="589.9" cy="232.1" rx="27.5" ry="5.3"/>
<ellipse class="p" cx="589.9" cy="231.9" rx="24.3" ry="3.9"/>
<path class="p" d="M567.4 233.4 A23.2 4.2 0 0 0 612.4 233.4" style="stroke-width:1"/>
</g>
<g id="flap1">
<g>
<ellipse class="pw" cx="582.7" cy="369.7" rx="36.2" ry="5.9"/>
<path class="p" d="M553 367 Q549.6 369.4 553 372.6 M612.5 366.8 Q616 369.4 612.5 372.4 M608.6 365.6 Q611 369 608.6 373.2"/>
<path class="pw" d="M563.6 366 V372.4 A20.4 3.4 0 0 0 604.4 372.4 V366 Z"/>
<path class="p" d="M563.6 370 A20.4 3.4 0 0 0 604.4 370"/>
<ellipse class="pw" cx="585" cy="364.6" rx="19.8" ry="5.2" style="stroke:#333"/>
<path class="d" d="M565.8 366.4 A19.8 4.6 0 0 0 604.2 366.6" style="stroke-width:.9"/>
<path class="d" d="M567.6 360.2 Q573 359 578.8 359.2" style="stroke-width:1.2"/>
<path class="pw" d="M578.6 361 Q584.5 356 589.4 353.9 Q592.6 353.4 594 355.4 L597.8 361.6 Q590 364.6 578.6 361 Z" style="stroke:#333"/>
<path class="p" d="M581.6 360.4 Q586.6 356.6 591 356 L592.6 362.2 M591 356 Q593.4 355.4 594.4 356.6"/>
<path class="pw" d="M598.6 361 L602.4 359.4 L605.6 361.4 L603.6 364 Z" style="stroke:#333"/>
<g class="pw" style="stroke:#222;stroke-width:.8">
<path d="M552.4 358.8 h4.4 v10.6 h-4.4 Z M552.4 362.8 h4.4"/>
<path d="M556.2 360 L560.6 359.4 L564.8 361.4 L565.4 366.6 L563.8 369.6 L557.4 369.4 L556.2 366 Z" style="fill:#4a4a4a"/>
<path d="M556.6 355.2 h4.6 v4.4 h-4.6 Z"/>
<rect x="558" y="364.4" width="2.4" height="2.6" style="stroke:none;fill:#fff"/><rect x="561.6" y="364.8" width="2" height="2.4" style="stroke:none;fill:#eee"/>
<path d="M560.4 361.8 l2.8 -1.2 l1.4 1.6 l-2.6 1.4 Z" style="stroke:none;fill:#fff"/>
<path d="M552.6 369.6 h12.6 v3 h-12.6 Z" style="stroke:#444;stroke-width:.6"/>
</g>
</g>
</g>
<g id="pipe13">
<g class="p" style="stroke:#444;stroke-width:.7">
<!-- pipe -->
<path class="tw" d="M154.2 531 V664.2 A15.1 1.5 0 0 0 184.4 664.2 V531 Z"/>
<!-- collar -->
<path class="pw" style="stroke:#444" d="M151.5 523 V529.6 Q152 532 154.4 532.6 A15 1.8 0 0 0 184.4 532.6 Q185.2 531.4 185 529.6 V523 Z"/>
<path d="M152.4 530.6 A17 2 0 0 0 184.8 530.6"/>
<!-- screws below -->
<path d="M145.2 523.4 V528 M147.4 523.4 V528 M144.8 524.6 h3 M144.8 526 h3 M144.8 527.4 h3 M184 523.8 V528.6 M186.2 523.8 V528.6 M183.6 525.2 h3 M183.6 526.6 h3 M183.6 528 h3" style="stroke:#222;stroke-width:.8"/>
<!-- back posts -->
<path class="pw" style="stroke:#444" d="M191.8 491 V517.4 H195.4 V491 Z M143.1 492 V517 H145.7 V492 Z"/>
<!-- bottom plate -->
<path class="pw" style="stroke:#333" d="M138.4 521.8 L144.7 516.6 L200.7 517.1 L193.9 523.9 L193.9 525 L138.6 523.2 Z"/>
<path d="M138.4 521.8 L193.9 523.9 M146 519.6 L176 520.6" style="stroke:#333"/>
<!-- front post -->
<path class="pw" style="stroke:#444" d="M174.5 495 V520.6 Q177.4 521.6 180.3 520.6 V495 Z"/>
<path d="M176.6 496 V521" style="stroke:#888"/>
<!-- nuts -->
<g class="pw" style="stroke:#1c1c1c;stroke-width:1">
<path d="M143.4 519.6 Q143.2 516.4 146.8 516.2 Q150.4 516.4 150.2 519.6 Q150.4 521.4 146.8 521.6 Q143.2 521.4 143.4 519.6 Z M143.6 519 Q146.8 520.6 150 519"/>
<path d="M181.6 520.2 Q181.4 517 185 516.8 Q188.6 517 188.4 520.2 Q188.6 522 185 522.2 Q181.4 522 181.6 520.2 Z M181.8 519.6 Q185 521.2 188.2 519.6"/>
</g>
<!-- top plate -->
<path class="pw" style="stroke:#333" d="M142.6 489.4 Q143 487.6 147 486.6 L191 486.4 Q195 487.4 195.4 489.4 V491 L177.4 496.4 L145.6 492.6 L142.6 491 Z"/>
<path d="M142.6 489.4 L146 491 L177.2 494.8 L195.4 489.6 M177.2 494.8 V496.4" style="stroke:#333"/>
<ellipse class="pw" cx="169.3" cy="488.6" rx="21" ry="4.2" style="stroke:#333"/>
<path d="M148.4 489 A21 4 0 0 0 190.2 489" style="stroke:#222;stroke-width:.9"/>
<ellipse class="pw" cx="169.3" cy="485.8" rx="18" ry="3.7" style="stroke:#333"/>
<ellipse class="pw" cx="169.3" cy="485.4" rx="13.4" ry="2.6" style="stroke:#333"/>
<path d="M182.8 484.2 L186.6 481 M187 485.8 L190.8 483" style="stroke:#333"/>
<circle cx="144.4" cy="488.8" r="1.3" class="pw" style="stroke:#333"/><circle cx="193.4" cy="488.6" r="1.3" class="pw" style="stroke:#333"/>
</g>
</g>
<g id="pipe16">
<g class="p" style="stroke:#444;stroke-width:.7">
<path class="tw" d="M228 504 V589.8 A15.5 1.5 0 0 0 259 589.8 V504 Z"/>
<path class="pw" style="stroke:#444" d="M225.4 496 V502.6 Q226 505 228.2 505.6 A15.4 1.8 0 0 0 259 505.6 Q259.8 504.4 259.5 502.6 V496 Z"/>
<path d="M226.2 503.4 A17 2 0 0 0 259.2 503.4"/>
<path d="M220.2 496.4 V501 M222.4 496.4 V501 M219.8 497.6 h3 M219.8 499 h3 M219.8 500.4 h3 M258.6 496.8 V501.6 M260.8 496.8 V501.6 M258.2 498.2 h3 M258.2 499.6 h3 M258.2 501 h3" style="stroke:#222;stroke-width:.8"/>
<!-- plate -->
<path class="pw" style="stroke:#333" d="M212.9 495.4 L223.3 488.2 L274.6 489.6 L266.3 496.4 L266.3 497.6 L213.2 496.8 Z"/>
<path d="M212.9 495.4 L266.3 496.4 M216.6 494.6 L224.4 489.4 L271.4 490.6" style="stroke:#333"/>
<!-- dome -->
<ellipse class="pw" cx="244.3" cy="491.6" rx="17" ry="3.6" style="stroke:#333"/>
<path class="pw" style="stroke:#333" d="M230.4 490.2 Q231 486.6 238 485.6 Q244.3 485 250.6 485.6 Q257.6 486.6 258.2 490.2 A13.9 3 0 0 1 230.4 490.2 Z"/>
<path d="M231.4 489 Q244 492.6 257.4 489" />
<ellipse cx="244.3" cy="486" rx="5.6" ry="1.4" style="fill:#555;stroke:#222;stroke-width:.8"/>
<!-- fitting -->
<path class="pw" style="stroke:#333;stroke-width:.7" d="M241.6 474.2 H246.6 V480.4 L247.2 483.4 Q247.2 484.8 244.1 484.8 Q241 484.8 241 483.4 L241.6 480.4 Z"/>
<path d="M241.6 476.2 H246.6 M241.6 478.2 H246.6 M241.6 480.4 H246.6 M243.2 474.2 V480.4 M245 474.2 V480.4" style="stroke:#444;stroke-width:.55"/>
<!-- nuts -->
<g class="pw" style="stroke:#1c1c1c;stroke-width:1">
<path d="M224.6 486.6 Q224.4 483.4 228 483.2 Q231.6 483.4 231.4 486.6 Q231.6 488.4 228 488.6 Q224.4 488.4 224.6 486.6 Z M224.8 486 Q228 487.6 231.2 486"/>
<path d="M263.4 487 Q263.2 483.8 266.8 483.6 Q270.4 483.8 270.2 487 Q270.4 488.8 266.8 489 Q263.2 488.8 263.4 487 Z M263.6 486.4 Q266.8 488 270 486.4"/>
<path d="M217.8 492.4 Q217.6 489.2 221.2 489 Q224.8 489.2 224.6 492.4 Q224.8 494.2 221.2 494.4 Q217.6 494.2 217.8 492.4 Z M218 491.8 Q221.2 493.4 224.4 491.8"/>
<path d="M256.1 492.9 Q255.9 489.7 259.5 489.5 Q263.1 489.7 262.9 492.9 Q263.1 494.7 259.5 494.9 Q255.9 494.7 256.1 492.9 Z M256.3 492.3 Q259.5 493.9 262.7 492.3"/>
</g>
</g>
</g>
<g id="float3">
<g class="p" style="stroke:#444;stroke-width:.7">
<path class="pw" style="stroke:#444" d="M309.1 514 V521 Q311 521.8 312.8 521 V514 Z"/>
<path class="pw" style="stroke:#444" d="M291 504.5 V510 Q291.4 513 296 513.8 L325.8 513.8 Q330.3 513 330.7 510 V504.5 Z"/>
<path d="M305.1 514.3 H315.7"/>
<path class="pw" style="stroke:#444" d="M293.2 490.7 V504.6 A17.6 2.6 0 0 0 327.9 504.6 V490.7 Z"/>
<path d="M291 504.5 L293.2 504 M330.7 504.5 L327.9 504 M291 504.6 A19.85 2.8 0 0 0 330.7 504.6" style="stroke:#333;stroke-width:.8"/>
<path class="pw" style="stroke:#444" d="M288.8 489.9 Q289 488 293 487.4 Q310.6 484.6 328.4 487.4 Q332.2 488 332.5 489.9 Q332.2 491.4 328.6 491.8 Q310.6 494.2 292.6 491.8 Q289 491.4 288.8 489.9 Z"/>
<ellipse cx="310.6" cy="489.4" rx="17.6" ry="2.4"/>
<path d="M293.4 490.8 A17.4 2.6 0 0 0 327.8 490.8" style="stroke:#333"/>
</g>
</g>
<g id="battery">
<g class="p" style="stroke:#333;stroke-width:.8">
<rect class="pw" x="44.2" y="596.6" width="13.2" height="22.8" rx="1" style="stroke:#333;stroke-width:.8"/>
<path class="pw" style="stroke:#333;stroke-width:.8" d="M45.6 596.6 V595.4 Q47.4 594.6 49.2 595.4 V596.6 M51.4 596.6 V595.6 Q53.2 594.6 55 595.6 V596.6"/>
<path d="M44.6 597.6 H57"/>
</g>
</g>
<g id="brackets">
<g class="p" style="stroke:#444;stroke-width:.7">
<!-- left bracket -->
<path d="M175 892 H178.2 V901 Q176.6 903 175 901 Z" style="fill:#333;stroke:#222"/>
<path class="pw" style="stroke:#444" d="M160.2 890.1 L163.5 886.8 H181.6 V868.6 L184.2 865.8 L187.6 865.6 L189 867 V884.9 L182 892.4 L160.4 892.2 Z"/>
<path d="M160.2 890.1 L181.6 890.4 L185.8 886 V867.6 M181.6 886.8 V890.4 M185.8 867.6 L187.6 865.6 M181.6 868.6 L185.8 867.6"/>
<path class="pw" style="stroke:#333" d="M178.9 870 L181.6 869.6 V877 L178.9 876.6 Z M173.3 888.4 V884.6 Q176.6 883.4 179.9 884.6 V888.4 Q176.6 889.6 173.3 888.4 Z M176.4 884 V889"/>
<path d="M186.4 872.2 H197 Q199 873.8 197 875.6 H186.4 Z" style="fill:#333;stroke:#222"/>
<!-- right bracket -->
<path d="M500.4 874.2 H491.6 Q489.6 875.8 491.6 877.6 H500.4 Z" style="fill:#333;stroke:#222"/>
<path d="M509.9 895 H513.5 V903.8 Q511.7 905.6 509.9 903.8 Z" style="fill:#333;stroke:#222"/>
<path class="pw" style="stroke:#444" d="M500.4 870.2 L502.8 868.2 H506 L506.6 869.2 V887.5 L507.3 889.6 L527.5 889.8 V890.8 L523.6 895.4 L504.6 894.6 Q500.6 893.6 500.4 891 Z"/>
<path d="M503 870.4 V889 Q503.4 892 506 892.6 L524.6 893 L527.5 890 M500.4 870.2 L503 870.4 L506 868.2 M503 889 L506.6 887.5 M504.8 888.4 L507 890.6"/>
<path class="pw" style="stroke:#333" d="M504.3 872.4 L508.9 873 V879.2 L504.3 878.6 Z M506.4 872.8 V879 M508.2 890.6 V887.2 Q511.5 886 514.8 887.2 V890.6 Q511.5 891.8 508.2 890.6 Z M511.2 886.6 V891.4"/>
</g>
</g>
<g id="leaders">
<path class="l" d="M48.4 99.7 L155.9 99.9"/>
<path class="l" d="M47.9 300.9 L394.2 303.3"/>
<path class="l" d="M48.4 387.3 L392.0 390.3"/>
<path class="l" d="M48.4 419.3 L308.8 422.0 L307.4 485.8"/>
<path class="l" d="M48.4 451.4 L244.9 453.4 L243.4 473.8"/>
<path class="l" d="M48.3 556.6 L154.0 557.7"/>
<path class="l" d="M48.3 703.9 L259.5 702.9"/>
<path class="l" d="M728.7 131.1 L618.5 130.9"/>
<path class="l" d="M729.7 200.5 L636.8 200.1"/>
<path class="l" d="M729.1 243.0 L617.0 243.2"/>
<path class="l" d="M729.7 297.7 L612.9 297.3"/>
<path class="l" d="M729.5 368.9 L618.9 368.9"/>
<path class="l" d="M729.7 418.4 L434.5 417.4"/>
<path class="l" d="M729.7 472.7 L565.9 472.0"/>
<path class="l" d="M729.7 529.2 L539.7 529.6"/>
<path class="l" d="M729.1 576.6 L541.1 577.6"/>
<path class="l" d="M729.7 626.4 L563.7 625.0"/>
<path class="l" d="M729.7 675.0 L459.4 672.9"/>
<path class="l" d="M729.7 893.5 L527.4 891.4"/>
</g>
<g id="callouts">
<circle class="c" cx="36.1" cy="99.7" r="12.3"/><text class="n" x="36.1" y="104.9">18</text>
<circle class="c" cx="35.6" cy="300.9" r="12.3"/><text class="n" x="35.6" y="306.1">2</text>
<circle class="c" cx="36.1" cy="387.3" r="12.3"/><text class="n" x="36.1" y="392.5">15</text>
<circle class="c" cx="36.1" cy="420.3" r="12.3"/><text class="n" x="36.1" y="425.5">3</text>
<circle class="c" cx="36.1" cy="452.7" r="12.3"/><text class="n" x="36.1" y="457.9">16</text>
<circle class="c" cx="36.0" cy="556.6" r="12.3"/><text class="n" x="36.0" y="561.8">13</text>
<circle class="c" cx="36.0" cy="703.9" r="12.3"/><text class="n" x="36.0" y="709.1">5</text>
<circle class="c" cx="741.0" cy="131.1" r="12.3"/><text class="n" x="741.0" y="136.3">8</text>
<circle class="c" cx="742.0" cy="200.5" r="12.3"/><text class="n" x="742.0" y="205.7">7</text>
<circle class="c" cx="741.4" cy="243.0" r="12.3"/><text class="n" x="741.4" y="248.2">6</text>
<circle class="c" cx="742.0" cy="297.7" r="12.3"/><text class="n" x="742.0" y="302.9">17</text>
<circle class="c" cx="741.8" cy="368.9" r="12.3"/><text class="n" x="741.8" y="374.1">1</text>
<circle class="c" cx="742.0" cy="418.4" r="12.3"/><text class="n" x="742.0" y="423.6">19</text>
<circle class="c" cx="742.0" cy="472.7" r="12.3"/><text class="n" x="742.0" y="477.9">12</text>
<circle class="c" cx="742.0" cy="529.2" r="12.3"/><text class="n" x="742.0" y="534.4">14</text>
<circle class="c" cx="741.4" cy="576.6" r="12.3"/><text class="n" x="741.4" y="581.8">4</text>
<circle class="c" cx="742.0" cy="626.4" r="12.3"/><text class="n" x="742.0" y="631.6">10</text>
<circle class="c" cx="742.0" cy="675.0" r="12.3"/><text class="n" x="742.0" y="680.2">9</text>
<circle class="c" cx="742.0" cy="893.5" r="12.3"/><text class="n" x="742.0" y="898.7">11</text>
<circle class="k" cx="434.6" cy="417.3" r="3.3"/>
</g>
</svg>
</body>
</html>
